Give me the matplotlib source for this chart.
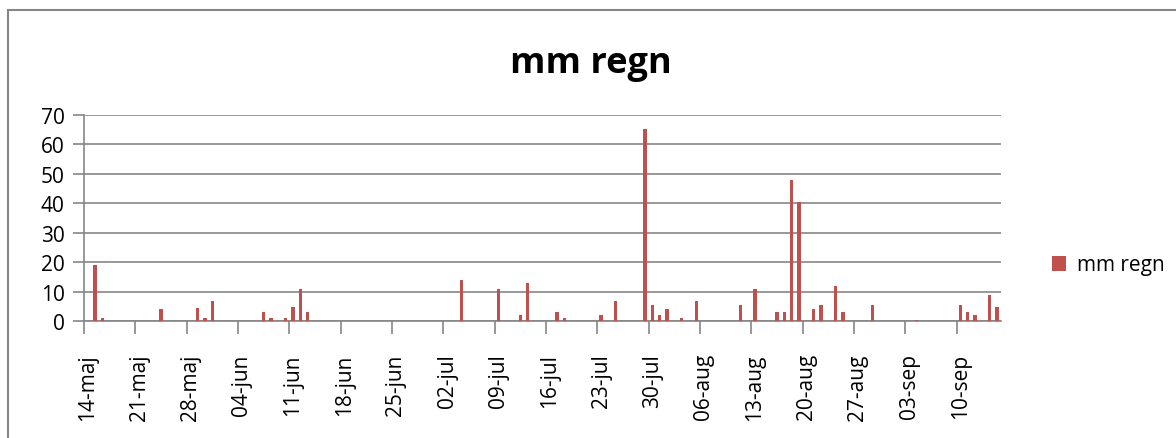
import numpy as np
import pandas as pd
import matplotlib
matplotlib.use("Agg")
import matplotlib.pyplot as plt
from matplotlib.patches import Rectangle

# daglig nederbord, 14 maj - 15 sep
start_date = "2012-05-14"
month_names = ["jan", "feb", "mar", "apr", "maj", "jun",
               "jul", "aug", "sep", "okt", "nov", "dec"]
rain_mm = [
    0, 19, 1, 0, 0, 0, 0,
    0, 0, 0, 4, 0, 0, 0,
    0, 4.5, 1, 7, 0, 0, 0,
    0, 0, 0, 3, 1, 0, 1,
    5, 11, 3, 0, 0, 0, 0,
    0, 0, 0, 0, 0, 0, 0,
    0, 0, 0, 0, 0, 0, 0,
    0, 0, 14, 0, 0, 0, 0,
    11, 0, 0, 2, 13, 0, 0,
    0, 3, 1, 0, 0, 0, 0,
    2, 0, 7, 0, 0, 0, 65,
    5.5, 2, 4, 0, 1, 0, 7,
    0, 0, 0, 0, 0, 5.5, 0,
    11, 0, 0, 3, 3, 48, 40.5,
    0, 4, 5.5, 0, 12, 3, 0,
    0, 0, 5.5, 0, 0, 0, 0,
    0, 0.5, 0, 0, 0, 0, 0,
    5.5, 3, 2, 0, 9, 5,
]
y_ticks = [0, 10, 20, 30, 40, 50, 60, 70]

dates = pd.date_range(start_date, periods=len(rain_mm), freq="D")
x = np.arange(len(rain_mm))

plt.rcParams['font.family'] = ['Open Sans', 'DejaVu Sans']
grey = "#868686"
red = "#C0504D"

fig = plt.figure(figsize=(11.76, 4.39), dpi=100)
ax = fig.add_axes([84/1176, 1-322.3/439, (1000.7-84)/1176, (322.3-115.7)/439])

ax.bar(x, rain_mm, width=0.45, color=red, label="mm regn", zorder=3)

ax.set_xlim(-0.5, len(rain_mm)-0.5)
ax.set_ylim(0, 70)
ax.set_yticks(y_ticks)
ax.yaxis.grid(True, color=grey, linewidth=1.2, zorder=0)

# etiketter mitt pa dagen, streck vid dagens vanstra kant
lab_idx = x[::7]
ax.set_xticks(lab_idx)
ax.set_xticklabels([f"{d.day:02d}-{month_names[d.month-1]}" for d in dates[::7]],
                   rotation=90, fontsize=15)
ax.set_xticks(lab_idx - 0.5, minor=True)
ax.tick_params(axis="x", which="major", length=0, pad=23)
ax.tick_params(axis="x", which="minor", length=9, width=1.2, color=grey)
ax.tick_params(axis="y", length=8, width=1.2, color=grey, labelsize=15, pad=6)

for s in ["top", "right"]:
    ax.spines[s].set_visible(False)
for s in ["left", "bottom"]:
    ax.spines[s].set_color(grey)
    ax.spines[s].set_linewidth(1.2)

fig.text(591/1176, 1-73/439, "mm regn", ha="center", va="baseline",
         fontsize=26, fontweight="bold")

fig.legend(loc="center left", bbox_to_anchor=(1033/1176, 1-266/439),
           frameon=False, fontsize=15, handlelength=0.7, handleheight=0.7,
           handletextpad=0.5)

fig.add_artist(Rectangle((8/1176, -0.1), 2, 1-11/439+0.1, transform=fig.transFigure,
                         fill=False, edgecolor=grey, linewidth=1.5))

fig.savefig("out.png", dpi=100)
